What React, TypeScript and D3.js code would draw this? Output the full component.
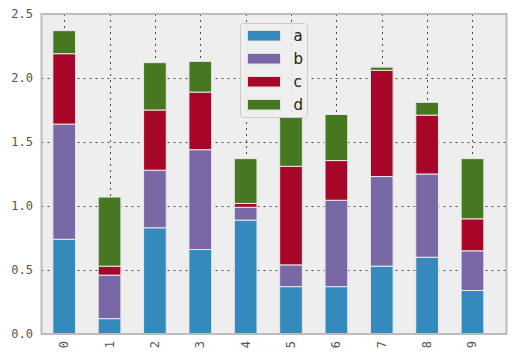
import React, { useEffect, useRef } from "react";
import * as d3 from "d3";

const categories = ["0", "1", "2", "3", "4", "5", "6", "7", "8", "9"];
const seriesNames = ["a", "b", "c", "d"];
const aValues = [0.74, 0.12, 0.83, 0.66, 0.89, 0.37, 0.37, 0.53, 0.6, 0.34];
const bValues = [0.9, 0.34, 0.45, 0.78, 0.1, 0.17, 0.675, 0.7, 0.65, 0.31];
const cValues = [0.55, 0.07, 0.47, 0.45, 0.03, 0.77, 0.31, 0.83, 0.46, 0.25];
const dValues = [0.18, 0.54, 0.37, 0.24, 0.35, 0.39, 0.36, 0.025, 0.1, 0.47];
const yTicks = [0, 0.5, 1.0, 1.5, 2.0, 2.5];
const colors = ["#348ABD", "#7A68A6", "#A60628", "#467821"];

const W = 516;
const H = 359;
const margin = { top: 14, right: 9.5, bottom: 25, left: 41.5 };

export default function App() {
  const ref = useRef<SVGSVGElement>(null);

  useEffect(() => {
    const svg = d3.select(ref.current);
    svg.selectAll("*").remove();

    const x0 = margin.left;
    const x1 = W - margin.right;
    const y0 = H - margin.bottom;
    const y1 = margin.top;

    const x = d3.scaleLinear().domain([-0.5, 9.75]).range([x0, x1]);
    const y = d3.scaleLinear().domain([0, 2.5]).range([y0, y1]);
    const barW = x(0.5) - x(0);

    const table = categories.map((c, i) => ({
      cat: i,
      a: aValues[i],
      b: bValues[i],
      c: cValues[i],
      d: dValues[i],
    }));
    const stacked = d3.stack<any>().keys(seriesNames)(table);

    // axes background
    svg
      .append("rect")
      .attr("x", x0)
      .attr("y", y1)
      .attr("width", x1 - x0)
      .attr("height", y0 - y1)
      .attr("fill", "#eeeeee");

    // grid
    const grid = svg.append("g").attr("stroke", "#4a4a4a").attr("stroke-width", 1).attr("stroke-dasharray", "2,4");
    grid
      .selectAll(".hgrid")
      .data(yTicks)
      .join("line")
      .attr("x1", x0)
      .attr("x2", x1)
      .attr("y1", (d) => Math.round(y(d)) + 0.5)
      .attr("y2", (d) => Math.round(y(d)) + 0.5);
    grid
      .selectAll(".vgrid")
      .data(categories)
      .join("line")
      .attr("x1", (d, i) => Math.round(x(i)) + 0.5)
      .attr("x2", (d, i) => Math.round(x(i)) + 0.5)
      .attr("y1", y1)
      .attr("y2", y0);

    // bars
    svg
      .append("g")
      .selectAll("g")
      .data(stacked)
      .join("g")
      .attr("fill", (d, i) => colors[i])
      .selectAll("rect")
      .data((d) => d)
      .join("rect")
      .attr("x", (d: any) => x(d.data.cat) - barW / 2)
      .attr("y", (d) => y(d[1]))
      .attr("width", barW)
      .attr("height", (d) => y(d[0]) - y(d[1]))
      .attr("stroke", "#e8e8e8")
      .attr("stroke-width", 1);

    // frame
    svg
      .append("rect")
      .attr("x", x0)
      .attr("y", y1)
      .attr("width", x1 - x0)
      .attr("height", y0 - y1)
      .attr("fill", "none")
      .attr("stroke", "#bcbcbc")
      .attr("stroke-width", 2);

    // y tick labels
    svg
      .append("g")
      .selectAll("text")
      .data(yTicks)
      .join("text")
      .attr("x", 33)
      .attr("y", (d) => y(d))
      .attr("dy", "0.36em")
      .attr("text-anchor", "end")
      .attr("font-family", "DejaVu Sans Mono")
      .attr("font-size", 12)
      .attr("fill", "#555555")
      .text((d) => d3.format(".1f")(d));

    // x tick labels (rotated)
    svg
      .append("g")
      .selectAll("text")
      .data(categories)
      .join("text")
      .attr("transform", (d, i) => `translate(${x(i) + 4},${y0 + 7}) rotate(-90)`)
      .attr("text-anchor", "end")
      .attr("font-family", "DejaVu Sans Mono")
      .attr("font-size", 12)
      .attr("fill", "#555555")
      .text((d) => d);

    // legend
    const lg = svg.append("g").attr("transform", "translate(240.5,23.5)");
    lg.append("rect")
      .attr("width", 67)
      .attr("height", 94)
      .attr("rx", 3)
      .attr("fill", "#eeeeee")
      .attr("fill-opacity", 0.9)
      .attr("stroke", "#cccccc");
    const items = lg
      .selectAll(".item")
      .data(seriesNames)
      .join("g")
      .attr("transform", (d, i) => `translate(7,${7 + i * 23})`);
    items
      .append("rect")
      .attr("width", 33)
      .attr("height", 10.5)
      .attr("fill", (d, i) => colors[i])
      .attr("stroke", "#e0e0e0");
    items
      .append("text")
      .attr("x", 46)
      .attr("y", 5.25)
      .attr("dy", "0.36em")
      .attr("font-family", "DejaVu Sans")
      .attr("font-size", 15)
      .attr("fill", "#222222")
      .text((d) => d);
  }, []);

  return <svg ref={ref} width={W} height={H} style={{ position: "absolute", left: 0, top: 0 }} />;
}
